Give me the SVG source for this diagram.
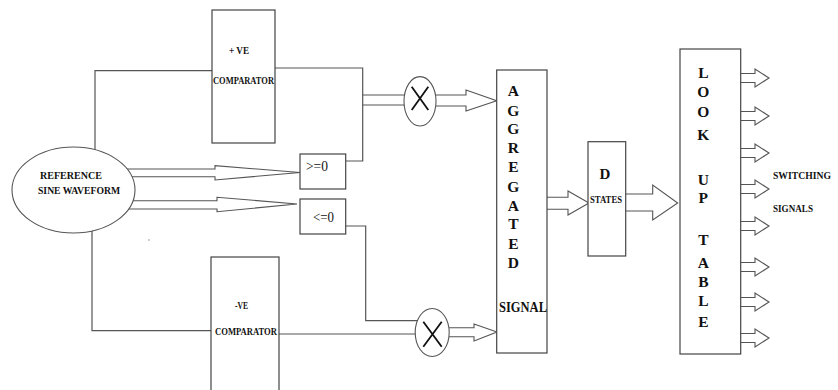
<svg xmlns="http://www.w3.org/2000/svg" width="838" height="390" viewBox="0 0 838 390" font-family="Liberation Serif, DejaVu Serif, serif">
<style>
.ln{fill:none;stroke:#555;stroke-width:1.2}
.ar{fill:#fff;stroke:#555;stroke-width:1.1;stroke-linejoin:miter}
.bx{fill:#fff;stroke:#444;stroke-width:1.2}
.el{fill:#fff;stroke:#555;stroke-width:1.1}
.x{stroke:#111;stroke-width:1.8;fill:none}
text{font-family:"Liberation Serif","DejaVu Serif",serif;font-weight:bold;fill:#111}
.t10{font-size:11px}
.t14{font-size:15.5px}
.tc{text-anchor:middle}
.rg{font-weight:normal;font-size:15px}
</style>
<rect width="838" height="390" fill="#fff"/>
<g id="connectors">
  <polyline class="ln" points="95,150 95,70.7 212,70.7"/>
  <polyline class="ln" points="92,230 92,330.7 211,330.7"/>
  <polyline class="ln" points="275,68 362.7,68 362.7,161 345.7,161"/>
  <line class="ln" x1="362.7" y1="95" x2="405" y2="95"/>
  <line class="ln" x1="362.7" y1="105" x2="405" y2="105"/>
  <polyline class="ln" points="345.7,226 365.7,226 365.7,320.7 418,320.7"/>
  <line class="ln" x1="279" y1="334" x2="416" y2="334"/>
  <path class="ar" d="M120,169 H215 V165.7 L300,172.5 L215,180 V176.7 H120"/>
  <path class="ar" d="M120,200.7 H217 V197.3 L297,204 L217,211.7 V209 H120"/>
  <path class="ar" d="M436,95 H466 V90 L496.7,100.7 L466,111 V106 H436"/>
  <path class="ar" d="M449,327.7 H474 V324 L497,332 L474,341 V336.7 H449"/>
  <path class="ar" d="M547,197.3 H568 V191 L589,203 L568,215 V209.3 H547"/>
  <path class="ar" d="M625.7,194 H652.7 V185 L677.7,203 L652.7,220 V211 H625.7"/>
  <path class="ar" d="M740.7,73.5 H755 V69 L769,78 L755,87 V82.5 H740.7"/>
  <path class="ar" d="M740.7,111.5 H755 V107 L769,116 L755,125 V120.5 H740.7"/>
  <path class="ar" d="M740.7,148.5 H755 V144 L769,153 L755,162 V157.5 H740.7"/>
  <path class="ar" d="M740.7,184.5 H755 V180 L769,189 L755,198 V193.5 H740.7"/>
  <path class="ar" d="M740.7,221.5 H755 V217 L769,226 L755,235 V230.5 H740.7"/>
  <path class="ar" d="M740.7,262.5 H755 V258 L769,267 L755,276 V271.5 H740.7"/>
  <path class="ar" d="M740.7,297.5 H755 V293 L769,302 L755,311 V306.5 H740.7"/>
  <path class="ar" d="M740.7,333.5 H755 V329 L769,338 L755,347 V342.5 H740.7"/>
</g>
<g id="reference">
  <ellipse class="el" cx="73.5" cy="190" rx="61.5" ry="43"/>
  <text class="t10" x="40" y="178.5" textLength="62" lengthAdjust="spacingAndGlyphs">REFERENCE</text>
  <text class="t10" x="38" y="193.5" textLength="82" lengthAdjust="spacingAndGlyphs">SINE WAVEFORM</text>
</g>
<g id="pos-comparator">
  <rect class="bx" x="212" y="10" width="63" height="133"/>
  <text class="t10" x="229" y="54" textLength="20" lengthAdjust="spacingAndGlyphs">+ VE</text>
  <text class="t10" x="213" y="83.5" textLength="61" lengthAdjust="spacingAndGlyphs">COMPARATOR</text>
</g>
<g id="neg-comparator">
  <rect class="bx" x="211" y="257" width="68" height="140"/>
  <text class="t10" x="235" y="309" textLength="13" lengthAdjust="spacingAndGlyphs">-VE</text>
  <text class="t10" x="215" y="335" textLength="62" lengthAdjust="spacingAndGlyphs">COMPARATOR</text>
</g>
<g id="ge-zero">
  <rect class="bx" x="300" y="154" width="45.7" height="35"/>
  <text class="rg" x="306" y="170.5" textLength="22" lengthAdjust="spacingAndGlyphs">&gt;=0</text>
</g>
<g id="le-zero">
  <rect class="bx" x="300" y="199" width="45.7" height="35"/>
  <text class="rg" x="313" y="222" textLength="21" lengthAdjust="spacingAndGlyphs">&lt;=0</text>
</g>
<g id="mult1">
  <ellipse class="el" cx="420" cy="101.3" rx="16" ry="24.7"/>
  <path class="x" d="M411.7,86.7 L428.3,110 M428.3,86.7 L411.7,110"/>
</g>
<g id="mult2">
  <ellipse class="el" cx="432.2" cy="332.5" rx="17" ry="24"/>
  <path class="x" d="M423.3,321.7 L441.7,346.7 M441.7,321.7 L423.3,346.7"/>
</g>
<g id="aggregated">
  <rect class="bx" x="496.7" y="70" width="50.3" height="283"/>
  <text class="t14 tc" x="513.3" y="95.5">A</text>
  <text class="t14 tc" x="513.3" y="115.5">G</text>
  <text class="t14 tc" x="513.3" y="133.8">G</text>
  <text class="t14 tc" x="513.3" y="152.8">R</text>
  <text class="t14 tc" x="513.3" y="172.2">E</text>
  <text class="t14 tc" x="513.3" y="192.2">G</text>
  <text class="t14 tc" x="513.3" y="210.5">A</text>
  <text class="t14 tc" x="513.3" y="229.3">T</text>
  <text class="t14 tc" x="513.3" y="249.3">E</text>
  <text class="t14 tc" x="513.3" y="268.3">D</text>
  <text class="t14" x="499" y="312" textLength="48" lengthAdjust="spacingAndGlyphs">SIGNAL</text>
</g>
<g id="d-states">
  <rect class="bx" x="588" y="141.7" width="37.7" height="114.3"/>
  <text class="tc" x="605" y="178.5" style="font-size:15px">D</text>
  <text x="590" y="202.5" style="font-size:9.5px" textLength="32" lengthAdjust="spacingAndGlyphs">STATES</text>
</g>
<g id="lookup-table">
  <rect class="bx" x="680" y="49" width="60.7" height="305"/>
  <text class="t14 tc" x="703.3" y="77.8">L</text>
  <text class="t14 tc" x="703.3" y="97.2">O</text>
  <text class="t14 tc" x="703.3" y="117.2">O</text>
  <text class="t14 tc" x="703.3" y="139.5">K</text>
  <text class="t14 tc" x="703.3" y="184.5">U</text>
  <text class="t14 tc" x="703.3" y="203">P</text>
  <text class="t14 tc" x="703.3" y="244.5">T</text>
  <text class="t14 tc" x="703.3" y="267.5">A</text>
  <text class="t14 tc" x="703.3" y="286.5">B</text>
  <text class="t14 tc" x="703.3" y="305.5">L</text>
  <text class="t14 tc" x="703.3" y="327.2">E</text>
</g>
<g id="switching-signals">
  <text style="font-size:10.5px" x="773" y="179" textLength="58" lengthAdjust="spacingAndGlyphs">SWITCHING</text>
  <text style="font-size:10.5px" x="773" y="212" textLength="40" lengthAdjust="spacingAndGlyphs">SIGNALS</text>
</g>
<circle cx="149" cy="240" r="0.7" fill="#777"/>
</svg>
